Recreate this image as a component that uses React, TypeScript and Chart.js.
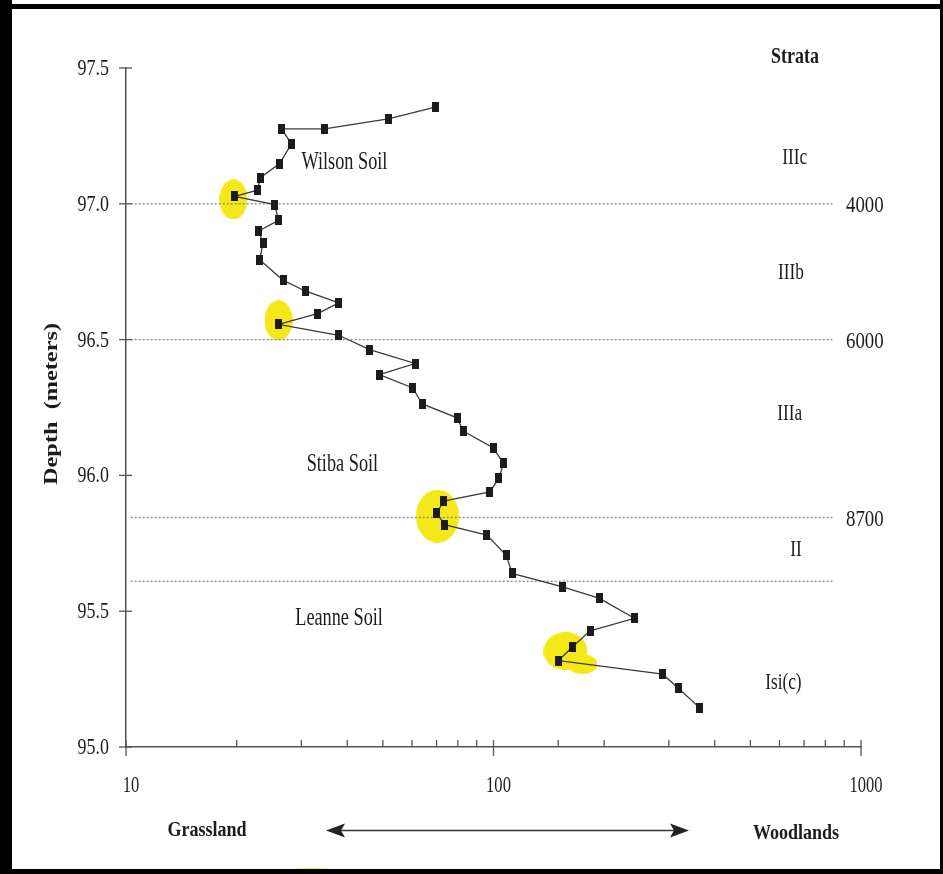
import { useEffect, useRef } from 'react';
import { Chart, registerables } from 'chart.js';
Chart.register(...registerables);

// Depth (m) of each sample, top to bottom
const depths = [
  97.356, 97.313, 97.276, 97.276, 97.221, 97.148, 97.096, 97.05, 97.027, 96.997,
  96.939, 96.9, 96.855, 96.794, 96.718, 96.679, 96.635, 96.596, 96.556, 96.516,
  96.463, 96.412, 96.371, 96.322, 96.263, 96.212, 96.163, 96.102, 96.044, 95.99,
  95.939, 95.905, 95.861, 95.819, 95.78, 95.706, 95.639, 95.59, 95.547, 95.474,
  95.428, 95.367, 95.318, 95.268, 95.216, 95.145,
];
// Grassland (10) -> Woodlands (1000) index value for each sample
const indexValues = [
  69.4, 51.7, 34.7, 26.5, 28.2, 26.2, 23.2, 22.8, 19.75, 25.4,
  26.0, 22.96, 23.6, 23.1, 26.8, 30.7, 37.95, 33.2, 26.0, 37.95,
  46.0, 61.2, 48.9, 60.3, 64.0, 79.6, 82.7, 99.7, 106.5, 103.4,
  97.8, 73.1, 70.1, 73.6, 95.9, 108.3, 112.4, 154.3, 194.3, 241.8,
  183.2, 163.7, 150.2, 288.7, 318.5, 363.3,
];

const boundaryDepths = [97.0, 96.5, 95.845, 95.61];
const boundaryLabels = ['4000', '6000', '8700', ''];
const boundaryXStart = 10.3;
const boundaryXEnd = 836;

const strataNames = ['IIIc', 'IIIb', 'IIIa', 'II', 'Isi(c)'];
const strataDepths = [97.17, 96.745, 96.225, 95.725, 95.237];
const strataX = [660, 645, 640, 665, 615];

const soilNames = ['Wilson Soil', 'Stiba Soil', 'Leanne Soil'];
const soilDepths = [97.154, 96.042, 95.472];
const soilX = [39.3, 38.8, 38.0];

const highlightX = [19.6, 26.0, 70.4, 157, 174.6];
const highlightY = [97.016, 96.571, 95.85, 95.353, 95.305];

const yMin = 95.0;
const yMax = 97.5;
const yStep = 0.5;
const xMin = 10;
const xMax = 1000;

const FONT = '"Liberation Serif", "Times New Roman", serif';
const INK = '#1c1c1c';

function txt(ctx: CanvasRenderingContext2D, s: string, x: number, y: number, size: number, bold: boolean, align: CanvasTextAlign, sx: number, rot = 0) {
  ctx.save();
  ctx.translate(x, y);
  if (rot) ctx.rotate(rot);
  ctx.scale(sx, 1);
  ctx.font = `${bold ? 'bold ' : ''}${size}px ${FONT}`;
  ctx.textAlign = align;
  ctx.textBaseline = 'middle';
  ctx.fillStyle = INK;
  ctx.fillText(s, 0, 0);
  ctx.restore();
}

function ellipseImg(w: number, h: number, color: string) {
  const c = document.createElement('canvas');
  c.width = w;
  c.height = h;
  const g = c.getContext('2d')!;
  g.fillStyle = color;
  g.beginPath();
  g.ellipse(w / 2, h / 2, w / 2, h / 2, 0, 0, Math.PI * 2);
  g.fill();
  return c;
}

function rectImg(w: number, h: number, color: string) {
  const c = document.createElement('canvas');
  c.width = w;
  c.height = h;
  const g = c.getContext('2d')!;
  g.fillStyle = color;
  g.fillRect(0, 0, w, h);
  return c;
}

const decorPlugin = {
  id: 'decor',
  beforeDraw(chart: any) {
    const ctx = chart.ctx as CanvasRenderingContext2D;
    const W = chart.width;
    const H = chart.height;
    ctx.save();
    ctx.fillStyle = '#fff';
    ctx.fillRect(0, 0, W, H);
    // yellow highlighter trace at bottom edge
    ctx.fillStyle = 'rgb(245,232,40)';
    ctx.beginPath();
    ctx.ellipse(312, 875, 40, 7, 0, 0, Math.PI * 2);
    ctx.fill();
    // frame
    ctx.fillStyle = '#000';
    ctx.fillRect(0, 0, 12, H);
    ctx.fillRect(0, 4, W, 5);
    ctx.fillRect(0, 869, W, 5);
    ctx.fillRect(W - 3, 0, 3, H);
    ctx.restore();
  },
  afterDraw(chart: any) {
    const ctx = chart.ctx as CanvasRenderingContext2D;
    const xs = chart.scales.x;
    const ys = chart.scales.y;
    const area = chart.chartArea;
    ctx.save();
    ctx.strokeStyle = '#555';
    ctx.lineWidth = 1.3;
    // y ticks (crossing)
    ys.ticks.forEach((t: any) => {
      const py = ys.getPixelForValue(t.value);
      ctx.beginPath();
      ctx.moveTo(area.left - 7, py);
      ctx.lineTo(area.left + 6, py);
      ctx.stroke();
      txt(ctx, Number(t.value).toFixed(1), 109, py + 1, 23, false, 'right', 0.78);
    });
    // x ticks
    xs.ticks.forEach((t: any) => {
      const px = xs.getPixelForValue(t.value);
      const lg = Math.log10(t.value);
      const major = Math.abs(lg - Math.round(lg)) < 1e-6;
      ctx.beginPath();
      if (major) {
        ctx.moveTo(px, area.bottom - 7);
        ctx.lineTo(px, area.bottom + 9);
      } else {
        ctx.moveTo(px, area.bottom - 7);
        ctx.lineTo(px, area.bottom);
      }
      ctx.stroke();
      if (major) txt(ctx, String(Math.round(t.value)), px + 5, 786, 23, false, 'center', 0.72);
    });
    // boundary ages
    boundaryDepths.forEach((d, i) => {
      if (!boundaryLabels[i]) return;
      const py = ys.getPixelForValue(d);
      txt(ctx, boundaryLabels[i], 846, py + 2.5, 23, false, 'left', 0.82);
    });
    // strata
    txt(ctx, 'Strata', 795, 57, 23, true, 'center', 0.78);
    strataNames.forEach((s, i) => {
      txt(ctx, s, xs.getPixelForValue(strataX[i]), ys.getPixelForValue(strataDepths[i]), 23, false, 'center', 0.75);
    });
    // soils
    soilNames.forEach((s, i) => {
      txt(ctx, s, xs.getPixelForValue(soilX[i]), ys.getPixelForValue(soilDepths[i]), 25, false, 'center', 0.73);
    });
    // y title
    txt(ctx, 'Depth  (meters)', 52, 404, 18, true, 'center', 1.35, -Math.PI / 2);
    // bottom labels & arrow
    txt(ctx, 'Grassland', 207, 830, 22, true, 'center', 0.82);
    txt(ctx, 'Woodlands', 796, 833, 22, true, 'center', 0.82);
    const ay = 830.5;
    const l = 326;
    const r = 689;
    ctx.strokeStyle = '#333';
    ctx.fillStyle = '#222';
    ctx.lineWidth = 1.5;
    ctx.beginPath();
    ctx.moveTo(l + 10, ay);
    ctx.lineTo(r - 10, ay);
    ctx.stroke();
    ctx.beginPath();
    ctx.moveTo(l, ay);
    ctx.lineTo(l + 19, ay - 7);
    ctx.lineTo(l + 15, ay);
    ctx.lineTo(l + 19, ay + 7);
    ctx.closePath();
    ctx.fill();
    ctx.beginPath();
    ctx.moveTo(r, ay);
    ctx.lineTo(r - 19, ay - 7);
    ctx.lineTo(r - 15, ay);
    ctx.lineTo(r - 19, ay + 7);
    ctx.closePath();
    ctx.fill();
    ctx.restore();
  },
};

export default function App() {
  const ref = useRef<HTMLCanvasElement>(null);
  useEffect(() => {
    document.body.style.margin = '0';
    const canvas = ref.current!;
    const marker = rectImg(7, 10, '#1c1c1c');
    const yellow = 'rgb(244,232,24)';
    const hlStyles = [
      ellipseImg(28, 40, yellow),
      ellipseImg(28, 40, yellow),
      ellipseImg(43, 53, yellow),
      ellipseImg(44, 38, yellow),
      ellipseImg(30, 20, yellow),
    ];
    const datasets: any[] = [
      {
        label: 'highlights',
        data: highlightX.map((x, i) => ({ x, y: highlightY[i] })),
        showLine: false,
        pointStyle: hlStyles,
        pointRadius: 5,
        order: 5,
      },
      ...boundaryDepths.map((d) => ({
        label: 'b' + d,
        data: [
          { x: boundaryXStart, y: d },
          { x: boundaryXEnd, y: d },
        ],
        borderColor: '#8c8c8c',
        borderWidth: 1.4,
        borderDash: [2, 2],
        pointRadius: 0,
        order: 3,
      })),
      {
        label: 'index',
        data: indexValues.map((x, i) => ({ x, y: depths[i] })),
        borderColor: '#3a3a3a',
        borderWidth: 1.3,
        pointStyle: marker,
        pointRadius: 5,
        order: 1,
      },
    ];
    const chart = new Chart(canvas, {
      type: 'line',
      data: { datasets },
      options: {
        responsive: false,
        animation: false,
        devicePixelRatio: 1,
        layout: { padding: { left: 100, right: 82, top: 68, bottom: 100 } },
        plugins: { legend: { display: false }, tooltip: { enabled: false } },
        scales: {
          x: {
            type: 'logarithmic',
            min: xMin,
            max: xMax,
            grid: { display: false, drawTicks: false },
            border: { display: true, color: '#555', width: 1.5 },
            ticks: { display: false },
            afterFit: (s: any) => {
              s.height = 27;
            },
          },
          y: {
            type: 'linear',
            min: yMin,
            max: yMax,
            grid: { display: false, drawTicks: false },
            border: { display: true, color: '#555', width: 1.5 },
            ticks: { display: false, stepSize: yStep },
            afterFit: (s: any) => {
              s.width = 26;
            },
          },
        },
      } as any,
      plugins: [decorPlugin],
    });
    return () => chart.destroy();
  }, []);
  return <canvas ref={ref} width={943} height={874} style={{ display: 'block' }} />;
}
